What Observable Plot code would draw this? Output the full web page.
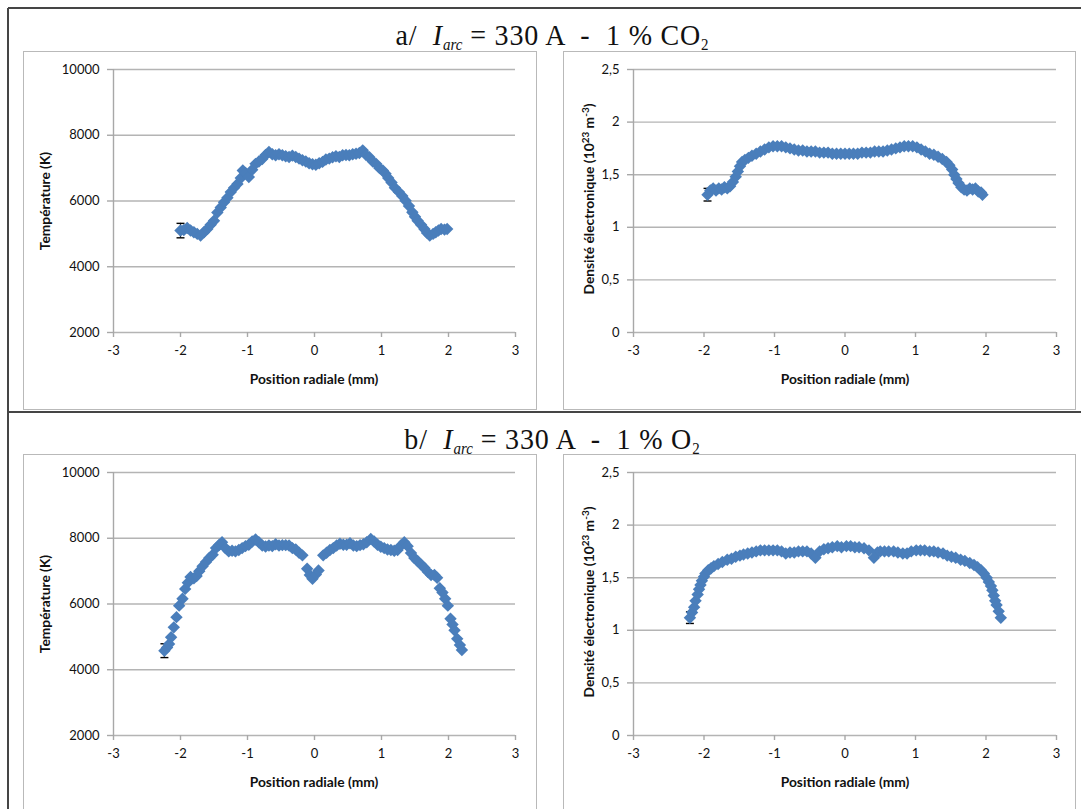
<!DOCTYPE html>
<html>
<head>
<meta charset="utf-8">
<script src="https://cdn.jsdelivr.net/npm/d3@7"></script>
<script src="https://cdn.jsdelivr.net/npm/@observablehq/plot@0.6"></script>
<style>
  html, body { margin: 0; padding: 0; background: #fff; }
  body { width: 1081px; height: 809px; overflow: hidden; position: relative; font-family: Lato, "Open Sans", sans-serif; }
  .hline { position: absolute; height: 0; border-top: 2px solid #454545; }
  .vline { position: absolute; width: 0; border-left: 2px solid #454545; }
  .box { position: absolute; border: 1.5px solid #b9b9b9; box-sizing: border-box; }
  .title { position: absolute; left: 0; width: 1104px; text-align: center; font-family: "Liberation Serif", "DejaVu Serif", serif; font-size: 28px; line-height: 32px; letter-spacing: 0.8px; color: #111; transform: scaleY(1.08); }
  .title sub { font-size: 15px; vertical-align: -5px; line-height: 0; letter-spacing: 0; }
  .chart { position: absolute; }
  .xlab { position: absolute; transform: translate(-50%, -50%); font-weight: bold; font-size: 13.8px; white-space: nowrap; color: #111; }
  .ylab { position: absolute; transform: translate(-50%, -50%) rotate(-90deg); font-weight: bold; font-size: 13.8px; white-space: nowrap; color: #111; }
  .ylab sup { font-size: 10px; vertical-align: 5px; line-height: 0; }
</style>
</head>
<body>
<div class="hline" style="left:8px;top:7px;width:1073px"></div>
<div class="vline" style="left:7px;top:8px;height:801px"></div>
<div class="hline" style="left:8px;top:411px;width:1073px"></div>

<div class="title" style="top:19px">a/&nbsp; <i>I</i><sub><i>arc</i></sub> = 330 A &nbsp;-&nbsp; 1 % CO<sub>2</sub></div>
<div class="title" style="top:423px">b/&nbsp; <i>I</i><sub><i>arc</i></sub> = 330 A &nbsp;-&nbsp; 1 % O<sub>2</sub></div>

<div class="box" style="left:23px;top:51px;width:514px;height:359px"></div>
<div class="box" style="left:563px;top:51px;width:513px;height:359px"></div>
<div class="box" style="left:23px;top:454px;width:514px;height:400px"></div>
<div class="box" style="left:563px;top:454px;width:513px;height:400px"></div>

<div id="c1" class="chart" style="left:23px;top:51px"></div>
<div id="c2" class="chart" style="left:563px;top:51px"></div>
<div id="c3" class="chart" style="left:23px;top:454px"></div>
<div id="c4" class="chart" style="left:563px;top:454px"></div>

<div class="xlab" style="left:314px;top:378px">Position radiale (mm)</div>
<div class="xlab" style="left:845px;top:378px">Position radiale (mm)</div>
<div class="xlab" style="left:314px;top:781px">Position radiale (mm)</div>
<div class="xlab" style="left:845px;top:781px">Position radiale (mm)</div>

<div class="ylab" style="left:44px;top:201px">Température (K)</div>
<div class="ylab" style="left:588px;top:199px">Densité électronique (10<sup>23</sup> m<sup>-3</sup>)</div>
<div class="ylab" style="left:44px;top:604px">Température (K)</div>
<div class="ylab" style="left:588px;top:602px">Densité électronique (10<sup>23</sup> m<sup>-3</sup>)</div>

<script>
// ---- tick values ----
const xTicks = [-3, -2, -1, 0, 1, 2, 3];
const tempTicks = [2000, 4000, 6000, 8000, 10000];
const densTicks = [0, 0.5, 1, 1.5, 2, 2.5];

// ---- a/ 1 % CO2 : temperature (K) vs radial position (mm) ----
const co2TempPos = [-2.00,-1.95,-1.90,-1.85,-1.80,-1.75,-1.70,-1.65,-1.60,-1.55,-1.50,-1.45,-1.40,-1.35,-1.30,-1.25,-1.20,-1.15,-1.10,-1.07,-1.03,-0.98,-0.93,-0.88,-0.83,-0.78,-0.73,-0.68,-0.63,-0.58,-0.53,-0.48,-0.43,-0.38,-0.33,-0.28,-0.23,-0.18,-0.13,-0.08,-0.03,0.02,0.07,0.12,0.17,0.22,0.27,0.32,0.37,0.42,0.47,0.52,0.57,0.62,0.67,0.72,0.77,0.82,0.87,0.92,0.97,1.02,1.06,1.10,1.15,1.20,1.26,1.31,1.36,1.41,1.46,1.50,1.54,1.59,1.64,1.68,1.72,1.77,1.81,1.85,1.89,1.94,1.98];
const co2Temp = [5100,5120,5180,5100,5050,5000,4950,5050,5150,5280,5400,5650,5800,5960,6100,6270,6400,6520,6700,6930,6850,6730,6950,7130,7200,7280,7400,7490,7420,7390,7420,7390,7360,7340,7380,7340,7290,7240,7200,7150,7120,7100,7150,7190,7260,7290,7330,7360,7340,7390,7400,7390,7420,7440,7460,7540,7400,7330,7200,7130,7000,6930,6830,6700,6560,6400,6270,6150,6010,5850,5660,5520,5400,5280,5150,5030,4950,5000,5050,5100,5150,5130,5150];
const co2TempErr = 220;

// ---- a/ 1 % CO2 : electron density (1e23 m-3) ----
const co2DensPos = [-1.95,-1.91,-1.87,-1.83,-1.79,-1.75,-1.71,-1.67,-1.63,-1.59,-1.55,-1.52,-1.49,-1.46,-1.42,-1.37,-1.32,-1.26,-1.20,-1.14,-1.08,-1.02,-0.96,-0.90,-0.84,-0.78,-0.72,-0.66,-0.60,-0.54,-0.48,-0.42,-0.36,-0.30,-0.24,-0.18,-0.12,-0.06,0.00,0.06,0.12,0.18,0.24,0.30,0.36,0.42,0.48,0.54,0.60,0.66,0.72,0.78,0.84,0.90,0.96,1.02,1.08,1.14,1.20,1.26,1.32,1.38,1.44,1.48,1.52,1.55,1.58,1.61,1.65,1.69,1.73,1.77,1.81,1.85,1.89,1.93,1.95];
const co2Dens = [1.31,1.35,1.37,1.35,1.37,1.36,1.38,1.37,1.39,1.43,1.48,1.53,1.58,1.62,1.64,1.66,1.68,1.70,1.72,1.74,1.76,1.77,1.77,1.77,1.76,1.75,1.74,1.73,1.73,1.72,1.72,1.72,1.71,1.71,1.71,1.70,1.70,1.70,1.70,1.70,1.70,1.70,1.71,1.71,1.71,1.72,1.72,1.72,1.73,1.74,1.75,1.76,1.77,1.77,1.77,1.76,1.74,1.72,1.70,1.69,1.67,1.65,1.62,1.59,1.55,1.50,1.46,1.42,1.38,1.36,1.35,1.37,1.36,1.37,1.34,1.33,1.31];
const co2DensErr = 0.06;

// ---- b/ 1 % O2 : temperature (K) ----
const o2TempPos = [-2.24,-2.20,-2.17,-2.14,-2.10,-2.06,-2.02,-1.97,-1.93,-1.89,-1.85,-1.80,-1.76,-1.72,-1.67,-1.62,-1.57,-1.52,-1.47,-1.42,-1.38,-1.33,-1.28,-1.23,-1.18,-1.13,-1.08,-1.03,-0.98,-0.93,-0.88,-0.83,-0.78,-0.73,-0.68,-0.63,-0.58,-0.53,-0.48,-0.43,-0.38,-0.33,-0.28,-0.23,-0.18,-0.11,-0.07,-0.03,0.02,0.06,0.13,0.18,0.23,0.28,0.33,0.38,0.43,0.48,0.53,0.58,0.63,0.68,0.73,0.78,0.84,0.89,0.94,0.99,1.04,1.09,1.14,1.19,1.24,1.29,1.34,1.39,1.44,1.49,1.54,1.59,1.64,1.69,1.74,1.79,1.83,1.87,1.91,1.95,1.99,2.03,2.06,2.09,2.13,2.17,2.20];
const o2Temp = [4580,4680,4780,4990,5290,5600,5950,6160,6460,6650,6820,6780,6850,7000,7150,7280,7400,7500,7700,7800,7880,7700,7600,7620,7600,7640,7700,7760,7800,7900,7960,7880,7780,7750,7780,7760,7820,7780,7790,7790,7780,7700,7660,7560,7480,7070,6880,6770,6900,7020,7480,7560,7640,7700,7780,7830,7800,7800,7850,7780,7760,7790,7820,7880,7980,7900,7800,7740,7700,7660,7640,7620,7640,7780,7880,7760,7550,7400,7300,7200,7100,6980,6880,6880,6800,6480,6350,6160,5950,5550,5380,5200,4940,4750,4600];
const o2TempErr = 210;

// ---- b/ 1 % O2 : electron density (1e23 m-3) ----
const o2DensPos = [-2.20,-2.17,-2.14,-2.12,-2.09,-2.07,-2.05,-2.03,-2.00,-1.98,-1.94,-1.90,-1.86,-1.80,-1.74,-1.67,-1.61,-1.55,-1.49,-1.44,-1.38,-1.32,-1.26,-1.20,-1.14,-1.08,-1.02,-0.96,-0.90,-0.84,-0.78,-0.72,-0.66,-0.60,-0.54,-0.48,-0.42,-0.36,-0.30,-0.24,-0.18,-0.11,-0.05,0.02,0.08,0.14,0.20,0.27,0.34,0.41,0.46,0.50,0.56,0.62,0.69,0.75,0.82,0.88,0.94,1.01,1.07,1.13,1.20,1.26,1.32,1.39,1.45,1.51,1.57,1.64,1.70,1.77,1.83,1.88,1.93,1.97,2.01,2.04,2.07,2.09,2.11,2.13,2.15,2.18,2.21];
const o2Dens = [1.12,1.17,1.22,1.28,1.34,1.39,1.43,1.47,1.51,1.54,1.57,1.59,1.61,1.63,1.65,1.67,1.68,1.70,1.71,1.72,1.73,1.74,1.75,1.76,1.76,1.76,1.76,1.76,1.75,1.73,1.74,1.74,1.75,1.75,1.75,1.73,1.69,1.75,1.77,1.78,1.79,1.80,1.79,1.80,1.80,1.79,1.79,1.78,1.76,1.69,1.74,1.75,1.75,1.75,1.75,1.74,1.73,1.73,1.75,1.76,1.76,1.76,1.75,1.75,1.74,1.73,1.71,1.70,1.69,1.67,1.66,1.64,1.62,1.60,1.57,1.54,1.50,1.46,1.42,1.38,1.33,1.28,1.24,1.18,1.12];
const o2DensErr = 0.055;

const blue = "#4a7ebb";
const grid = "#b4b4b4";
const axisGray = "#a8a8a8";

const capSymbol = { draw(ctx, size) { const w = Math.sqrt(size) * 0.75; ctx.moveTo(-w, 0); ctx.lineTo(w, 0); } };

function chart({ xs, ys, err, yDomain, yTicks, fmt, width, height, mL, mR, mT, mB, padY }) {
  const data = xs.map((x, i) => ({ x, y: ys[i] }));
  const first = [{ x: xs[0], lo: ys[0] - err, hi: ys[0] + err }];
  const caps = [{ x: xs[0], y: ys[0] - err }, { x: xs[0], y: ys[0] + err }];
  return Plot.plot({
    width, height,
    marginLeft: mL, marginRight: mR, marginTop: mT, marginBottom: mB,
    x: { domain: [-3, 3] },
    y: { domain: yDomain },
    style: { fontFamily: "Lato, 'Open Sans', sans-serif", fontSize: "13px", color: "#111", background: "transparent", overflow: "visible" },
    marks: [
      Plot.ruleY(yTicks, { stroke: grid, strokeWidth: 1.4 }),
      Plot.ruleX([-3], { stroke: axisGray, strokeWidth: 1.4 }),
      Plot.axisY({ ticks: yTicks, tickSize: 6, tickPadding: padY, tickFormat: fmt, stroke: axisGray, strokeWidth: 1.4, label: null }),
      Plot.axisX({ ticks: xTicks, tickSize: 5, tickPadding: 8, tickFormat: d => String(d), stroke: axisGray, strokeWidth: 1.4, label: null }),
      Plot.ruleX(first, { x: "x", y1: "lo", y2: "hi", stroke: "#000", strokeWidth: 1.2 }),
      Plot.dot(caps, { x: "x", y: "y", symbol: capSymbol, r: 3, stroke: "#000", fill: "none", strokeWidth: 1.4 }),
      Plot.dot(data, { x: "x", y: "y", symbol: "diamond2", r: 5.6, fill: blue, stroke: "none" })
    ]
  });
}

const tempFmt = d => String(d);
const densFmt = d => String(d).replace(".", ",");

document.getElementById("c1").append(chart({ xs: co2TempPos, ys: co2Temp, err: co2TempErr, yDomain: [2000, 10000], yTicks: tempTicks, fmt: tempFmt, width: 514, height: 359, mL: 90, mR: 22, mT: 18, mB: 78, padY: 8 }));
document.getElementById("c2").append(chart({ xs: co2DensPos, ys: co2Dens, err: co2DensErr, yDomain: [0, 2.5], yTicks: densTicks, fmt: densFmt, width: 513, height: 359, mL: 70, mR: 20, mT: 18, mB: 78, padY: 8 }));
document.getElementById("c3").append(chart({ xs: o2TempPos, ys: o2Temp, err: o2TempErr, yDomain: [2000, 10000], yTicks: tempTicks, fmt: tempFmt, width: 514, height: 400, mL: 90, mR: 22, mT: 18, mB: 119, padY: 8 }));
document.getElementById("c4").append(chart({ xs: o2DensPos, ys: o2Dens, err: o2DensErr, yDomain: [0, 2.5], yTicks: densTicks, fmt: densFmt, width: 513, height: 400, mL: 70, mR: 20, mT: 18, mB: 119, padY: 8 }));
</script>
</body>
</html>
